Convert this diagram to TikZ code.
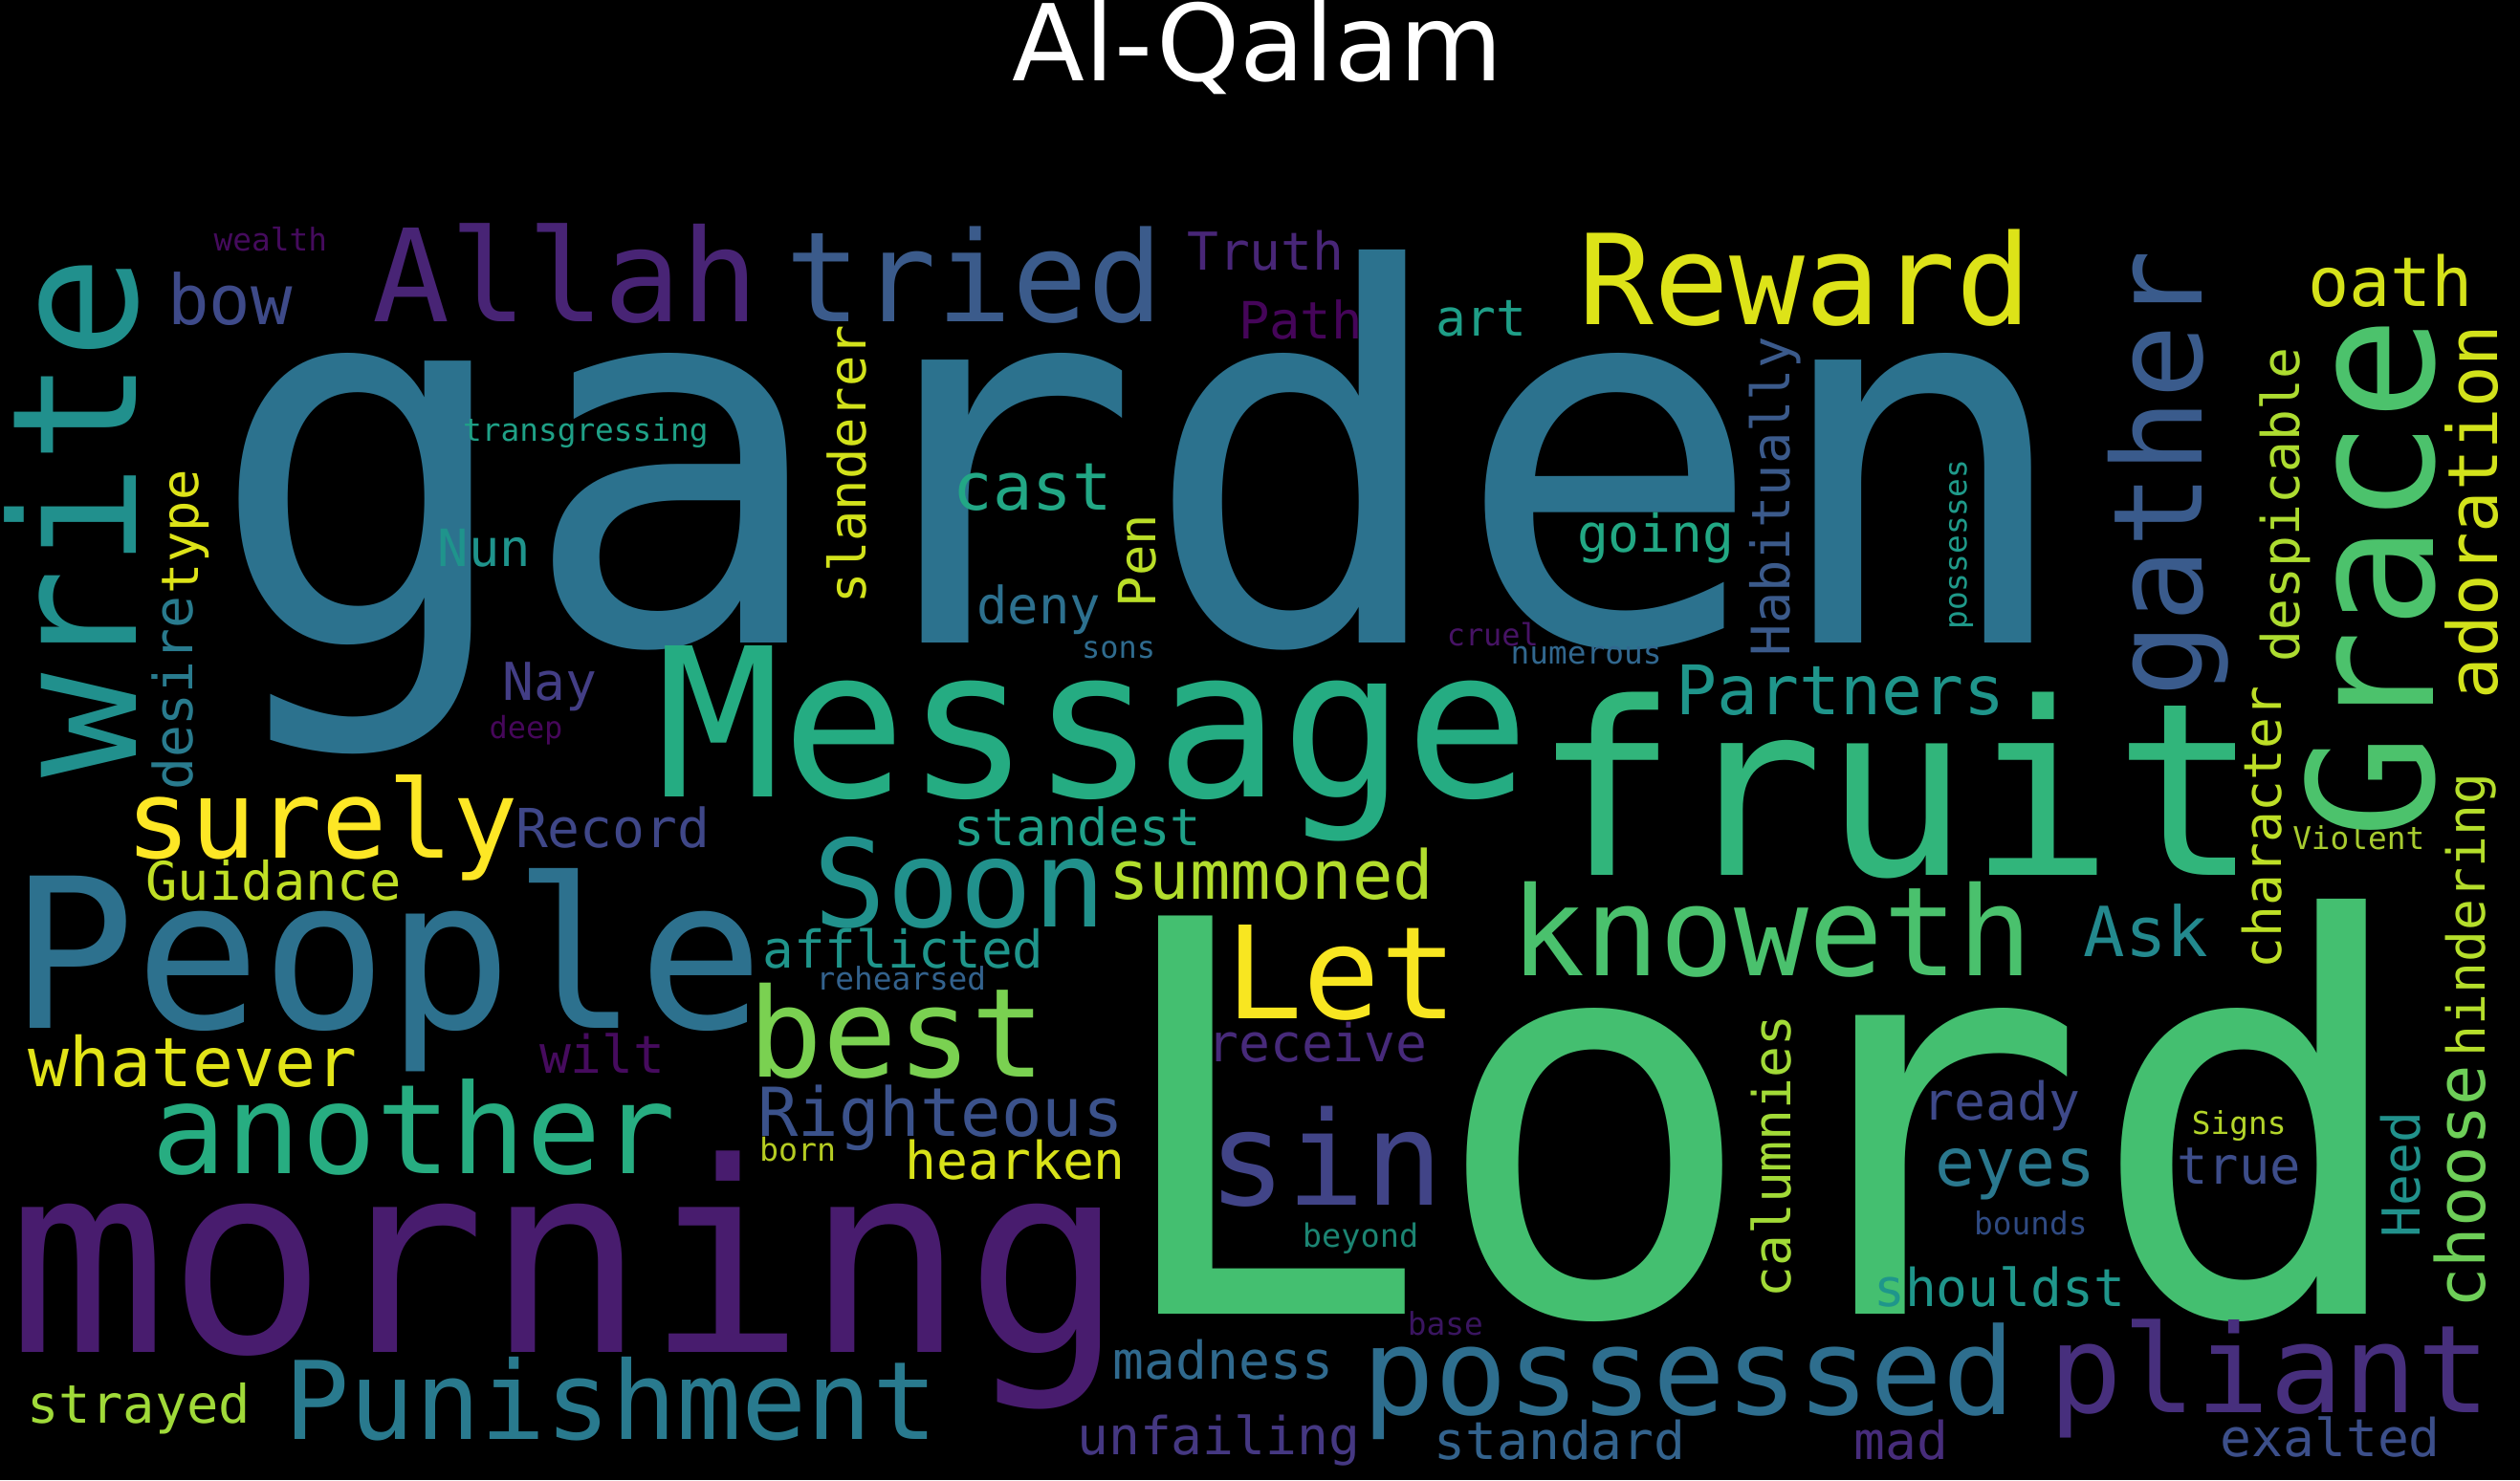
\documentclass[tikz,border=0pt]{standalone}
\usepackage{fontspec}
\newfontfamily\wcfont{DejaVu Sans Mono}
\newfontfamily\titlefont{DejaVu Sans}
\definecolor{kgarden}{HTML}{2C728E}
\definecolor{kLord}{HTML}{44BF70}
\definecolor{kMessage}{HTML}{25AC82}
\definecolor{kfruit}{HTML}{31B57B}
\definecolor{kPeople}{HTML}{2D718E}
\definecolor{kmorning}{HTML}{481C6E}
\definecolor{kAllah}{HTML}{482475}
\definecolor{ktried}{HTML}{3B5B8B}
\definecolor{kReward}{HTML}{DDE318}
\definecolor{ksurely}{HTML}{FDE725}
\definecolor{kanother}{HTML}{27AD81}
\definecolor{kbest}{HTML}{7AD151}
\definecolor{kSoon}{HTML}{21918C}
\definecolor{kLet}{HTML}{F8E621}
\definecolor{ksin}{HTML}{414487}
\definecolor{kknoweth}{HTML}{4AC16D}
\definecolor{kpossessed}{HTML}{2E6E8E}
\definecolor{kpliant}{HTML}{472F7D}
\definecolor{kPunishment}{HTML}{297A8E}
\definecolor{kRighteous}{HTML}{3B528B}
\definecolor{kPartners}{HTML}{1F958B}
\definecolor{koath}{HTML}{D5E21A}
\definecolor{ksummoned}{HTML}{B2DD2D}
\definecolor{kwhatever}{HTML}{E2E418}
\definecolor{keyes}{HTML}{2A788E}
\definecolor{kAsk}{HTML}{23898E}
\definecolor{kcast}{HTML}{22A785}
\definecolor{kbow}{HTML}{3E4A89}
\definecolor{kRecord}{HTML}{3F4788}
\definecolor{kGuidance}{HTML}{C0DF25}
\definecolor{kTruth}{HTML}{482677}
\definecolor{kPath}{HTML}{450559}
\definecolor{kart}{HTML}{1F9F88}
\definecolor{kNun}{HTML}{1F948C}
\definecolor{kNay}{HTML}{433E85}
\definecolor{kdeny}{HTML}{2D708E}
\definecolor{kgoing}{HTML}{22A884}
\definecolor{kstandest}{HTML}{1FA088}
\definecolor{kafflicted}{HTML}{1F958B}
\definecolor{kwilt}{HTML}{460B5E}
\definecolor{kreceive}{HTML}{472A7A}
\definecolor{khearken}{HTML}{D8E219}
\definecolor{kmadness}{HTML}{306A8E}
\definecolor{kunfailing}{HTML}{453882}
\definecolor{kstandard}{HTML}{33638D}
\definecolor{kmad}{HTML}{472D7B}
\definecolor{kexalted}{HTML}{3C4F8A}
\definecolor{kshouldst}{HTML}{1F968B}
\definecolor{kready}{HTML}{3E4989}
\definecolor{ktrue}{HTML}{3D4D8A}
\definecolor{kstrayed}{HTML}{A0DA39}
\definecolor{kwealth}{HTML}{450B5D}
\definecolor{ktransgressing}{HTML}{1FA187}
\definecolor{kdeep}{HTML}{46075A}
\definecolor{ksons}{HTML}{2F6B8E}
\definecolor{kcruel}{HTML}{471365}
\definecolor{knumerous}{HTML}{31678E}
\definecolor{krehearsed}{HTML}{33628D}
\definecolor{kborn}{HTML}{B5CC22}
\definecolor{kbeyond}{HTML}{1C8573}
\definecolor{kbase}{HTML}{3A1560}
\definecolor{kbounds}{HTML}{2F4A82}
\definecolor{kSigns}{HTML}{B4D52A}
\definecolor{kViolent}{HTML}{A8CC30}
\definecolor{kwrite}{HTML}{21908D}
\definecolor{ktype}{HTML}{DDE318}
\definecolor{kdesire}{HTML}{297B8E}
\definecolor{kslanderer}{HTML}{D2E21B}
\definecolor{kPen}{HTML}{BADE28}
\definecolor{kHabitually}{HTML}{3B5A8B}
\definecolor{kpossesses}{HTML}{1F9A8A}
\definecolor{kgather}{HTML}{3A5B8C}
\definecolor{kGrace}{HTML}{4CC26C}
\definecolor{kadoration}{HTML}{D2E21B}
\definecolor{kdespicable}{HTML}{ADDC30}
\definecolor{kcharacter}{HTML}{BDDF26}
\definecolor{kchoose}{HTML}{6ECE58}
\definecolor{khindering}{HTML}{B5DE2B}
\definecolor{kcalumnies}{HTML}{A2DA37}
\definecolor{kHeed}{HTML}{21918C}
\begin{document}
\begin{tikzpicture}[x=1pt,y=-1pt,
  wd/.style n args={2}{font=\wcfont\fontsize{#1}{#1}\selectfont, text=#2, inner sep=0pt, outer sep=0pt, anchor=base},
  wv/.style n args={2}{wd={#1}{#2}, rotate=90}]
\path[fill=black, use as bounding box] (0,0) rectangle (1568,921.2);
\node[font=\titlefont\fontsize{66}{66}\selectfont, text=white, inner sep=0pt, anchor=base] (title) at (782.5,50) {Al-Qalam};
% horizontal words
\node[wd={322}{kgarden}] (garden) at (711,400) {garden};
\node[wd={340}{kLord}] (Lord) at (1094.5,818) {Lord};
\node[wd={129}{kMessage}] (Message) at (680.5,496) {Message};
\node[wd={150}{kfruit}] (fruit) at (1180,544.5) {fruit};
\node[wd={130}{kPeople}] (People) at (241,640) {People};
\node[wd={165}{kmorning}] (morning) at (352.5,842) {morning};
\node[wd={80}{kAllah}] (Allah) at (352,200.3) {Allah};
\node[wd={78}{ktried}] (tried) at (606.5,200.3) {tried};
\node[wd={78}{kReward}] (Reward) at (1123,202) {Reward};
\node[wd={67.7}{ksurely}] (surely) at (200.3,534) {surely};
\node[wd={77.5}{kanother}] (another) at (257.5,730.5) {another};
\node[wd={77}{kbest}] (best) at (558.2,670.6) {best};
\node[wd={75.5}{kSoon}] (Soon) at (597.3,577.2) {Soon};
\node[wd={80}{kLet}] (Let) at (835,634) {Let};
\node[wd={81}{ksin}] (sin) at (825,750) {sin};
\node[wd={77}{kknoweth}] (knoweth) at (1102.4,607) {knoweth};
\node[wd={75}{kpossessed}] (possessed) at (1051,880.6) {possessed};
\node[wd={76}{kpliant}] (pliant) at (1412.4,879) {pliant};
\node[wd={67.5}{kPunishment}] (Punishment) at (380.3,895.6) {Punishment};
\node[wd={42}{kRighteous}] (Righteous) at (585.2,707) {Righteous};
\node[wd={42.5}{kPartners}] (Partners) at (1145.3,445) {Partners};
\node[wd={42.7}{koath}] (oath) at (1487.5,191) {oath};
\node[wd={42}{ksummoned}] (summoned) at (791,559.4) {summoned};
\node[wd={42.5}{kwhatever}] (whatever) at (120.2,676.5) {whatever};
\node[wd={41.5}{keyes}] (eyes) at (1254,738.2) {eyes};
\node[wd={43}{kAsk}] (Ask) at (1335.4,595.3) {Ask};
\node[wd={41}{kcast}] (cast) at (642.6,317.2) {cast};
\node[wd={43}{kbow}] (bow) at (143,202) {bow};
\node[wd={33.5}{kRecord}] (Record) at (381.3,527.6) {Record};
\node[wd={33}{kGuidance}] (Guidance) at (170.2,560.5) {Guidance};
\node[wd={32.5}{kTruth}] (Truth) at (787.5,168) {Truth};
\node[wd={32}{kPath}] (Path) at (809.2,210.9) {Path};
\node[wd={31.5}{kart}] (art) at (921.7,209) {art};
\node[wd={32}{kNun}] (Nun) at (301.4,352.4) {Nun};
\node[wd={32.5}{kNay}] (Nay) at (342.2,436) {Nay};
\node[wd={32}{kdeny}] (deny) at (646.4,388) {deny};
\node[wd={32.5}{kgoing}] (going) at (1030.2,343.6) {going};
\node[wd={32}{kstandest}] (standest) at (670.5,526.6) {standest};
\node[wd={32.3}{kafflicted}] (afflicted) at (562,602.6) {afflicted};
\node[wd={32.5}{kwilt}] (wilt) at (374.8,667.7) {wilt};
\node[wd={32.5}{kreceive}] (receive) at (819.7,661) {receive};
\node[wd={32.5}{khearken}] (hearken) at (631.8,733.9) {hearken};
\node[wd={32.5}{kmadness}] (madness) at (761.1,858.6) {madness};
\node[wd={32.5}{kunfailing}] (unfailing) at (758.3,905.6) {unfailing};
\node[wd={32.5}{kstandard}] (standard) at (970.6,908.5) {standard};
\node[wd={32.5}{kmad}] (mad) at (1182.9,908.5) {mad};
\node[wd={32.5}{kexalted}] (exalted) at (1450,906.5) {exalted};
\node[wd={32.5}{kshouldst}] (shouldst) at (1244.1,813) {shouldst};
\node[wd={32.5}{kready}] (ready) at (1245.4,697.2) {ready};
\node[wd={32}{ktrue}] (true) at (1393.2,736.7) {true};
\node[wd={33}{kstrayed}] (strayed) at (86.5,885.7) {strayed};
\node[wd={19.5}{kwealth}] (wealth) at (168.3,156.3) {wealth};
\node[wd={19.5}{ktransgressing}] (transgressing) at (364.4,274.6) {transgressing};
\node[wd={19}{kdeep}] (deep) at (327.3,459.4) {deep};
\node[wd={19}{ksons}] (sons) at (696,409.7) {sons};
\node[wd={19}{kcruel}] (cruel) at (928.8,401.8) {cruel};
\node[wd={19.5}{knumerous}] (numerous) at (987,413.5) {numerous};
\node[wd={19.5}{krehearsed}] (rehearsed) at (560.8,615.9) {rehearsed};
\node[wd={19.8}{kborn}] (born) at (496.4,722.4) {born};
\node[wd={20}{kbeyond}] (beyond) at (846.5,776.3) {beyond};
\node[wd={19.5}{kbase}] (base) at (899.3,830.7) {base};
\node[wd={19.5}{kbounds}] (bounds) at (1263.5,768.4) {bounds};
\node[wd={19.5}{kSigns}] (Signs) at (1393.2,705.8) {Signs};
\node[wd={19.5}{kViolent}] (Violent) at (1467.6,528.7) {Violent};
% vertical words
\node[wv={108}{kwrite}] (write) at (85,321.5) {write};
\node[wv={32}{ktype}] (type) at (123.5,331) {type};
\node[wv={33.5}{kdesire}] (desire) at (120,431.5) {desire};
\node[wv={32}{kslanderer}] (slanderer) at (539,289) {slanderer};
\node[wv={32}{kPen}] (Pen) at (719,349) {Pen};
\node[wv={33}{kHabitually}] (Habitually) at (1113.8,309) {Habitually};
\node[wv={19.5}{kpossesses}] (possesses) at (1223.6,339) {possesses};
\node[wv={77}{kgather}] (gather) at (1370,295) {gather};
\node[wv={108}{kGrace}] (Grace) at (1514,359.5) {Grace};
\node[wv={43}{kadoration}] (adoration) at (1554,318.7) {adoration};
\node[wv={32.5}{kdespicable}] (despicable) at (1431,314) {despicable};
\node[wv={32.5}{kcharacter}] (character) at (1419.5,515) {character};
\node[wv={42}{kchoose}] (choose) at (1546.2,738.6) {choose};
\node[wv={32.5}{khindering}] (hindering) at (1546.2,569.5) {hindering};
\node[wv={32.5}{kcalumnies}] (calumnies) at (1114.4,719.8) {calumnies};
\node[wv={32.5}{kHeed}] (Heed) at (1505.5,731) {Heed};
\end{tikzpicture}
\end{document}
